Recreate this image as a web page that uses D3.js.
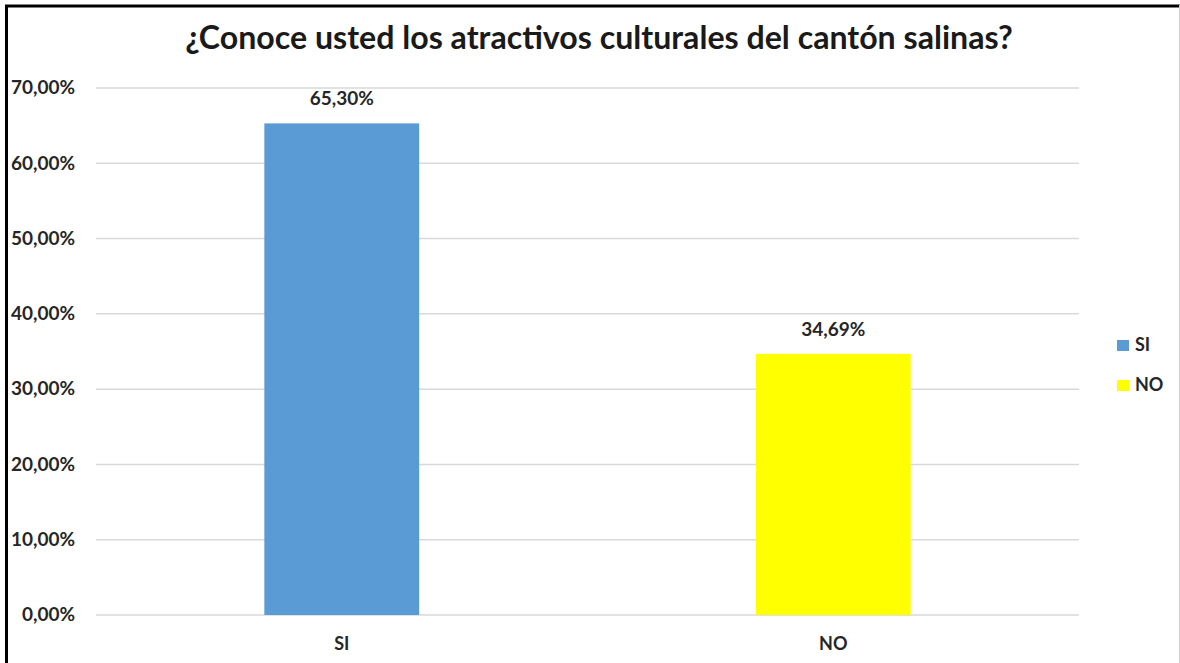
<!DOCTYPE html>
<html><head><meta charset="utf-8">
<script src="https://cdn.jsdelivr.net/npm/d3@7"></script>
<style>
html,body{margin:0;padding:0;background:#fff;}
svg{display:block;font-family:Lato,"Open Sans",sans-serif;}
</style></head>
<body><svg id="c" width="1180" height="663"></svg>
<script>
const categories = ["SI", "NO"];
const values = [0.6530, 0.3469];
const valueLabels = ["65,30%", "34,69%"];
const colors = ["#5b9bd5", "#ffff00"];
const yTicks = [0, 0.1, 0.2, 0.3, 0.4, 0.5, 0.6, 0.7];
const yTickLabels = ["0,00%", "10,00%", "20,00%", "30,00%", "40,00%", "50,00%", "60,00%", "70,00%"];
const title = "¿Conoce usted los atractivos culturales del cantón salinas?";

const svg = d3.select("#c");
const textColor = "#262626";

// frame
svg.append("rect").attr("x", 0).attr("y", 0).attr("width", 1180).attr("height", 663).attr("fill", "#fff");
svg.append("line").attr("x1", 6.5).attr("x2", 6.5).attr("y1", 5).attr("y2", 663).attr("stroke", "#000").attr("stroke-width", 3);
svg.append("line").attr("x1", 5).attr("x2", 1180).attr("y1", 6).attr("y2", 6).attr("stroke", "#000").attr("stroke-width", 3);
svg.append("line").attr("x1", 1179.5).attr("x2", 1179.5).attr("y1", 5).attr("y2", 663).attr("stroke", "#cfcfcf").attr("stroke-width", 1);

const x = d3.scaleBand().domain(categories).range([96, 1079]).paddingInner(0.685).paddingOuter(0.3425);
const y = d3.scaleLinear().domain([0, 0.7]).range([615, 88]);

// gridlines
svg.append("g").selectAll("line").data(yTicks).join("line")
  .attr("x1", 96).attr("x2", 1079)
  .attr("y1", d => y(d)).attr("y2", d => y(d))
  .attr("stroke", "#d9d9d9").attr("stroke-width", 1.5);

// y tick labels
svg.append("g").selectAll("text").data(yTicks).join("text")
  .attr("x", 75).attr("y", d => y(d)).attr("dy", "0.33em")
  .attr("text-anchor", "end").attr("font-size", 19).attr("font-weight", 700)
  .attr("fill", textColor)
  .text((d, i) => yTickLabels[i]);

// bars
svg.append("g").selectAll("rect").data(categories).join("rect")
  .attr("x", d => x(d)).attr("width", x.bandwidth())
  .attr("y", (d, i) => y(values[i])).attr("height", (d, i) => y(0) - y(values[i]))
  .attr("fill", (d, i) => colors[i]);

// value labels
svg.append("g").selectAll("text").data(categories).join("text")
  .attr("x", d => x(d) + x.bandwidth() / 2)
  .attr("y", (d, i) => y(values[i]) - 18)
  .attr("text-anchor", "middle").attr("font-size", 19).attr("font-weight", 700)
  .attr("fill", textColor)
  .text((d, i) => valueLabels[i]);

// x labels
svg.append("g").selectAll("text").data(categories).join("text")
  .attr("x", d => x(d) + x.bandwidth() / 2)
  .attr("y", 650)
  .attr("text-anchor", "middle").attr("font-size", 18).attr("font-weight", 700)
  .attr("fill", textColor)
  .text(d => d);

// title
const t = svg.append("text").attr("x", 599).attr("y", 49).attr("text-anchor", "middle")
  .attr("font-size", 30).attr("font-weight", 700).attr("fill", "#1a1a1a").text(title);
const w = t.node().getComputedTextLength();
t.attr("font-size", 30 * 828 / w);

// legend
const lg = svg.append("g").selectAll("g").data(categories).join("g")
  .attr("transform", (d, i) => `translate(1117,${340 + i * 40})`);
lg.append("rect").attr("width", 12).attr("height", 11).attr("fill", (d, i) => colors[i]);
lg.append("text").attr("x", 18).attr("y", 11).attr("font-size", 18).attr("font-weight", 700)
  .attr("fill", textColor).text(d => d);
</script>
</body></html>
